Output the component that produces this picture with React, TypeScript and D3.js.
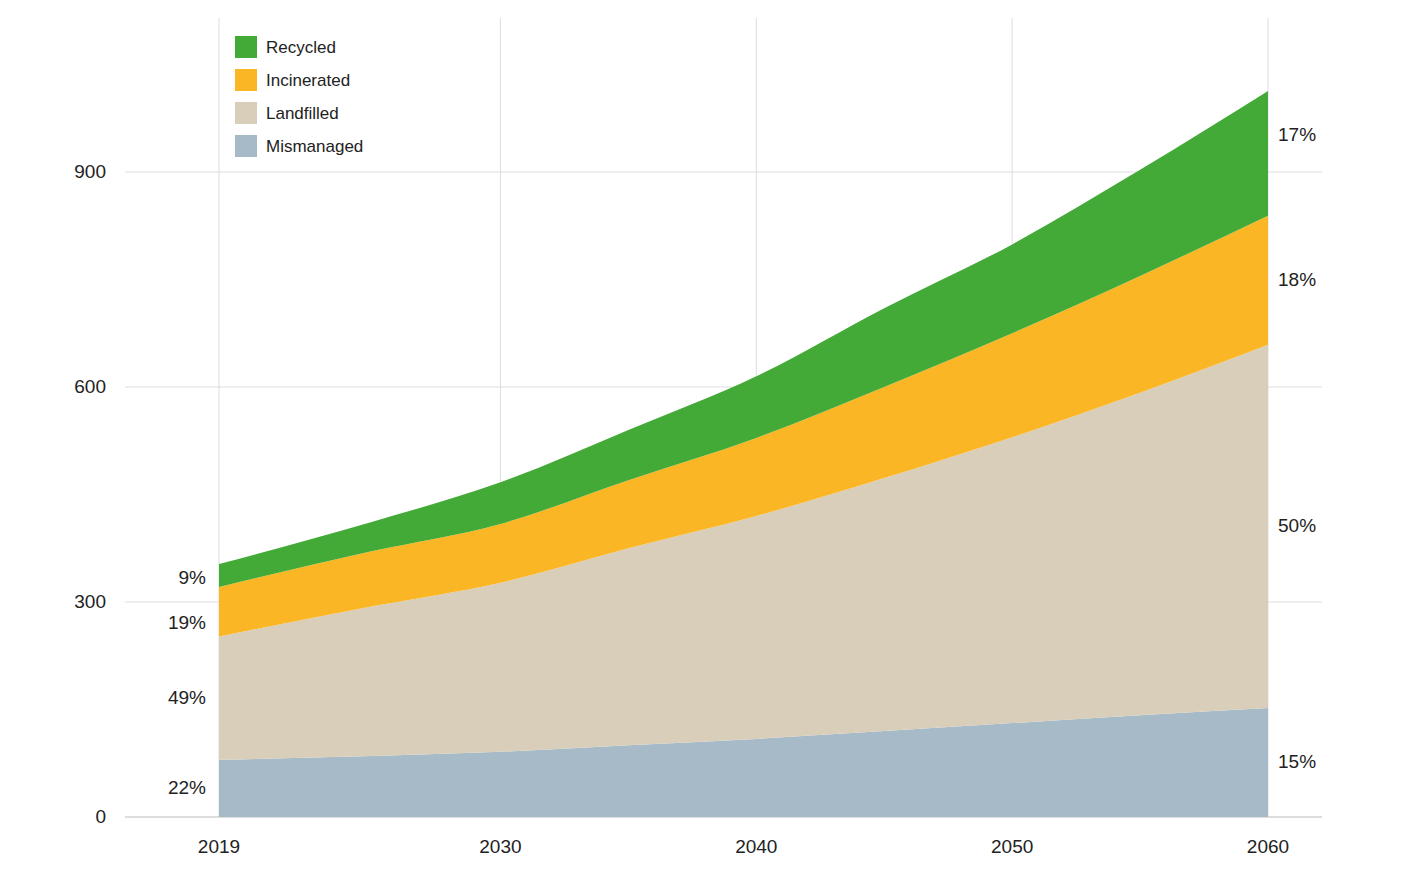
import * as d3 from 'd3'

const years = [2019, 2025, 2030, 2035, 2040, 2045, 2050, 2055, 2060]
const mismanaged = [80, 85, 91, 100, 109, 120, 131, 142, 152]
const landfilled = [172, 209, 236, 275, 311, 353, 399, 450, 507]
const incinerated = [69, 77, 82, 95, 109, 127, 145, 163, 180]
const recycled = [32, 41, 58, 70, 86, 110, 124, 148, 174]
const seriesNames = ['Mismanaged', 'Landfilled', 'Incinerated', 'Recycled']
const colors = ['#a7bac8', '#d9ceb9', '#fbb625', '#43aa37']
const xTicks = [2019, 2030, 2040, 2050, 2060]
const yTicks = [0, 300, 600, 900]
const leftPct = ['22%', '49%', '19%', '9%']
const rightPct = ['15%', '50%', '18%', '17%']

export default function App() {
    const width = 1406, height = 881
    const x = d3.scaleLinear().domain([2019, 2060]).range([219, 1268])
    const y = d3.scaleLinear().domain([0, 900]).range([817, 172])
    const rows = years.map((yr, i) => ({
        year: yr, Mismanaged: mismanaged[i], Landfilled: landfilled[i],
        Incinerated: incinerated[i], Recycled: recycled[i]
    }))
    const stack = d3.stack<any>().keys(seriesNames)(rows)
    const area = d3.area<any>()
        .x(d => x(d.data.year)).y0(d => y(d[0])).y1(d => y(d[1]))
        .curve(d3.curveMonotoneX)
    const font = 'Liberation Sans, Arial, sans-serif'
    const leftY = [787, 697, 622, 577]
    const rightY = [761, 525, 279, 134]
    return (
        <svg width={width} height={height} style={{ position: 'absolute', left: 0, top: 0 }} fontFamily={font}>
            {xTicks.map(t => <line key={t} x1={x(t)} x2={x(t)} y1={18} y2={817} stroke="#dddddd" />)}
            {yTicks.map(t => <line key={t} x1={125} x2={1322} y1={y(t)} y2={y(t)} stroke={t === 0 ? '#bbbbbb' : '#dddddd'} />)}
            {stack.map((s, i) => <path key={s.key} d={area(s) ?? ''} fill={colors[i]} />)}
            {yTicks.map(t => <text key={t} x={106} y={y(t) + 6} fontSize={19} textAnchor="end" fill="#222">{t}</text>)}
            {xTicks.map(t => <text key={t} x={x(t)} y={853} fontSize={19} textAnchor="middle" fill="#222">{t}</text>)}
            {leftPct.map((p, i) => <text key={i} x={206} y={leftY[i] + 7} fontSize={19} textAnchor="end" fill="#222">{p}</text>)}
            {rightPct.map((p, i) => <text key={i} x={1278} y={rightY[i] + 7} fontSize={19} fill="#222">{p}</text>)}
            {[3, 2, 1, 0].map((k, j) => (
                <g key={k} transform={`translate(235,${36 + j * 33})`}>
                    <rect width={22} height={22} fill={colors[k]} />
                    <text x={31} y={17} fontSize={17} fill="#222">{seriesNames[k]}</text>
                </g>
            ))}
        </svg>
    )
}
